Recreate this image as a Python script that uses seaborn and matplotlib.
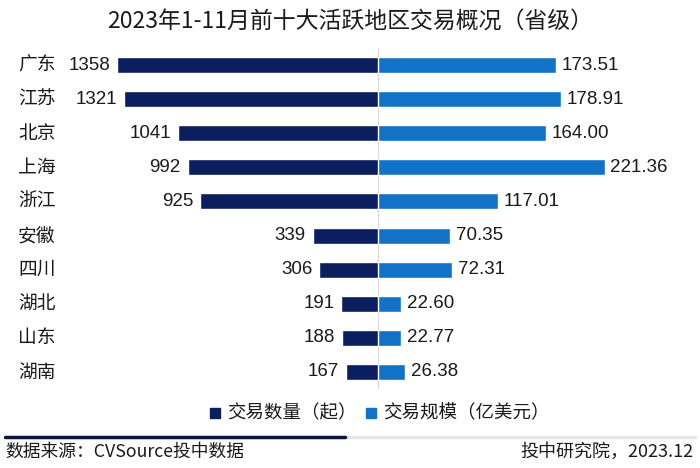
import matplotlib
matplotlib.use("Agg")
import matplotlib.pyplot as plt
import seaborn as sns
import pandas as pd
from matplotlib.lines import Line2D
from matplotlib.patches import Rectangle

provinces = ["广东", "江苏", "北京", "上海", "浙江", "安徽", "四川", "湖北", "山东", "湖南"]
deal_counts = [1358, 1321, 1041, 992, 925, 339, 306, 191, 188, 167]
deal_values = [173.51, 178.91, 164.00, 221.36, 117.01, 70.35, 72.31, 22.60, 22.77, 26.38]
value_labels = ["173.51", "178.91", "164.00", "221.36", "117.01", "70.35", "72.31", "22.60", "22.77", "26.38"]
title = "2023年1-11月前十大活跃地区交易概况（省级）"
legend_labels = ["交易数量（起）", "交易规模（亿美元）"]
source_text = "数据来源：CVSource投中数据"
credit_text = "投中研究院，2023.12"

sns.set_theme(style="white")
plt.rcParams["font.family"] = ["Liberation Sans", "Noto Sans CJK SC", "DejaVu Sans"]
cjk = ["Noto Sans CJK SC", "DejaVu Sans"]

navy = "#0b1f5e"
blue = "#1272c6"
txt = "#1a1a1a"

df = pd.DataFrame({"province": provinces, "count": deal_counts, "value": deal_values})

W, H = 700, 468
fig = plt.figure(figsize=(7, 4.68), dpi=100)

cx = 378
top_px, bot_px = 48, 389
left_px = 10
right_px = 690
axL = fig.add_axes([left_px / W, 1 - bot_px / H, (cx - left_px) / W, (bot_px - top_px) / H])
axR = fig.add_axes([cx / W, 1 - bot_px / H, (right_px - cx) / W, (bot_px - top_px) / H])

sns.barplot(data=df, y="province", x="count", orient="h", color=navy, ax=axL,
            width=0.47, saturation=1)
sns.barplot(data=df, y="province", x="value", orient="h", color=blue, ax=axR,
            width=0.47, saturation=1)

axL.set_xlim((cx - left_px) / 0.192, 0)
axR.set_xlim(0, (right_px - cx) / 1.025)
for ax in (axL, axR):
    ax.set_ylim(9.5, -0.5)
    ax.set_xlabel("")
    ax.set_ylabel("")
    ax.set_xticks([])
    ax.set_yticks([])
    for s in ax.spines.values():
        s.set_visible(False)
    ax.patch.set_alpha(0)

axR.axvline(0, color="#d9d9d9", lw=0.8, zorder=0)

for i, (c, v, vl) in enumerate(zip(deal_counts, deal_values, value_labels)):
    axL.annotate(str(c), (c, i), xytext=(-5, 0), textcoords="offset points",
                 ha="right", va="center", fontsize=13.5, color=txt)
    axR.annotate(vl, (v, i), xytext=(4, 0), textcoords="offset points",
                 ha="left", va="center", fontsize=13.5, color=txt)
    axL.text((cx - 18) / 0.192, i, provinces[i],
             ha="left", va="center", fontsize=13.5, family=cjk, color=txt)

fig.text(0.5 * (113 + 588) / W, 1 - 22 / H, title, ha="center", va="center",
         fontsize=16.5, family=cjk, color=txt)

# legend
ly = 1 - 413 / H
fig.patches.append(Rectangle((210 / W, ly - 5 / H), 10 / W, 10 / H, transform=fig.transFigure,
                             color=navy))
fig.text(227 / W, ly, legend_labels[0], ha="left", va="center", fontsize=13.3,
         family=cjk, color=txt)
fig.patches.append(Rectangle((366 / W, ly - 5 / H), 10 / W, 10 / H, transform=fig.transFigure,
                             color=blue))
fig.text(383 / W, ly, legend_labels[1], ha="left", va="center", fontsize=13.3,
         family=cjk, color=txt)

# footer lines
fy = 1 - 437 / H
fig.add_artist(Line2D([345 / W, 695 / W], [fy, fy], transform=fig.transFigure,
                      color="#e6e6e6", lw=2.5))
fig.add_artist(Line2D([5 / W, 345 / W], [fy, fy], transform=fig.transFigure,
                      color="#0b1540", lw=2.5))
fig.text(5 / W, 1 - 452 / H, source_text, ha="left", va="center", fontsize=12.8,
         family=cjk, color=txt)
fig.text(694 / W, 1 - 452 / H, credit_text, ha="right", va="center", fontsize=13,
         family=cjk, color=txt)

fig.savefig("out.png", dpi=100)
